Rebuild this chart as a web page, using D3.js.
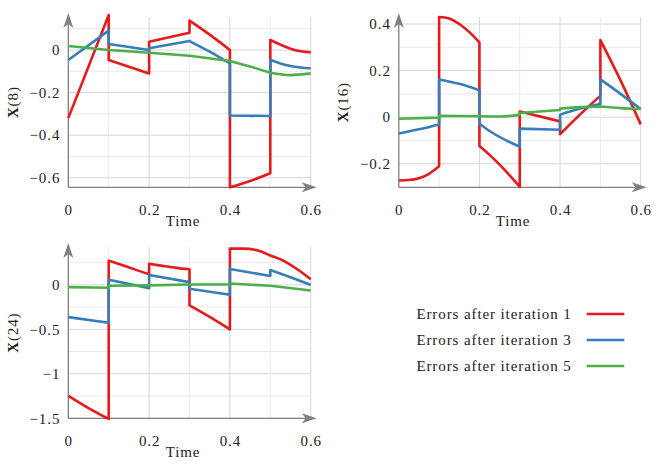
<html lang="en">
<head>
  <meta charset="UTF-8">
  <title>Errors per iteration</title>
  <script src="https://cdn.jsdelivr.net/npm/d3@7"></script>
  <style>
    body { margin: 0; background: #fff; }
    svg text { font-family: 'Liberation Serif', 'DejaVu Serif', serif; font-size: 15px; letter-spacing: 0.9px; fill: #222; }
  </style>
</head>
<body>
  <svg width="664" height="465"></svg>

  <script>
    // Points [time, value]; repeated times are the jumps
    const x8Iter1 = [[0,-0.32],[0.1,0.164],[0.1,-0.047],[0.2,-0.11],[0.2,0.039],[0.3,0.081],[0.3,0.138],[0.35,0.072],[0.4,0.0],
      [0.4,-0.645],[0.45,-0.615],[0.5,-0.579],[0.5,0.047],[0.525,0.025],[0.55,0.006],[0.575,-0.006],[0.6,-0.011]];
    const x8Iter3 = [[0,-0.047],[0.1,0.091],[0.1,0.028],[0.2,0.0],[0.2,0.008],[0.3,0.042],[0.35,-0.008],[0.4,-0.063],
      [0.4,-0.308],[0.5,-0.31],[0.5,-0.047],[0.525,-0.063],[0.55,-0.075],[0.575,-0.082],[0.6,-0.086]];
    const x8Iter5 = [[0,0.019],[0.1,0.0],[0.2,-0.013],[0.3,-0.027],[0.4,-0.052],[0.45,-0.078],[0.5,-0.107],[0.55,-0.118],[0.6,-0.11]];

    const x16Iter1 = [[0,-0.272],[0.025,-0.27],[0.05,-0.262],[0.075,-0.243],[0.1,-0.211],[0.1,0.43],[0.125,0.424],[0.15,0.4],
      [0.175,0.365],[0.2,0.321],[0.2,-0.124],[0.225,-0.162],[0.25,-0.204],[0.275,-0.25],[0.3,-0.299],[0.3,0.024],[0.4,-0.018],
      [0.4,-0.073],[0.45,0.012],[0.5,0.092],[0.5,0.331],[0.55,0.158],[0.6,-0.031]];
    const x16Iter3 = [[0,-0.07],[0.05,-0.052],[0.1,-0.031],[0.1,0.162],[0.15,0.143],[0.2,0.115],[0.2,-0.028],[0.233,-0.068],
      [0.267,-0.1],[0.3,-0.127],[0.3,-0.049],[0.4,-0.054],[0.4,0.011],[0.45,0.037],[0.5,0.056],[0.5,0.162],[0.55,0.1],[0.6,0.035]];
    const x16Iter5 = [[0,-0.007],[0.1,-0.002],[0.1,0.006],[0.2,0.004],[0.25,0.003],[0.3,0.01],[0.3,0.018],[0.4,0.031],
      [0.4,0.037],[0.45,0.043],[0.5,0.046],[0.55,0.039],[0.6,0.035]];

    const x24Iter1 = [[0,-1.248],[0.05,-1.385],[0.1,-1.507],[0.1,0.27],[0.133,0.222],[0.167,0.168],[0.2,0.119],[0.2,0.237],
      [0.233,0.213],[0.267,0.19],[0.3,0.174],[0.3,-0.23],[0.35,-0.36],[0.4,-0.5],[0.4,0.407],[0.433,0.407],[0.467,0.389],
      [0.5,0.33],[0.533,0.27],[0.567,0.175],[0.6,0.063]];
    const x24Iter3 = [[0,-0.363],[0.1,-0.426],[0.1,0.056],[0.2,-0.037],[0.2,0.111],[0.3,0.03],[0.3,-0.044],[0.4,-0.111],
      [0.4,0.178],[0.5,0.1],[0.5,0.167],[0.55,0.085],[0.6,0.0]];
    const x24Iter5 = [[0,-0.026],[0.1,-0.033],[0.1,-0.011],[0.2,-0.006],[0.3,0.004],[0.4,0.004],[0.4,0.015],[0.5,-0.011],[0.6,-0.063]];

    const seriesNames = ["Errors after iteration 1", "Errors after iteration 3", "Errors after iteration 5"];
    const colors = ["#e41a1c", "#377eb8", "#4daf4a"];

    const timeTicks = [0, 0.2, 0.4, 0.6];
    const timeGrid = [0.1, 0.2, 0.3, 0.4, 0.5, 0.6];
    const x8Ticks = [0, -0.2, -0.4, -0.6];
    const x8Minor = [0.1, -0.1, -0.3, -0.5];
    const x16Ticks = [0.4, 0.2, 0, -0.2];
    const x16Minor = [0.3, 0.1, -0.1];
    const x24Ticks = [0, -0.5, -1, -1.5];
    const x24Minor = [0.25, -0.25, -0.75, -1.25];

    const svg = d3.select("svg");
    const fmt = d3.format("~g");

    function arrowHead(g, tx, ty, dir) {
      // stealth-like head, tip at (tx, ty)
      const L = 15, W = 5, N = 11;
      const pts = dir === "right"
        ? [[tx, ty], [tx - L, ty - W], [tx - N, ty], [tx - L, ty + W]]
        : [[tx, ty], [tx - W, ty + L], [tx, ty + N], [tx + W, ty + L]];
      g.append("path").attr("d", "M" + pts.join("L") + "Z").attr("fill", "#808080");
    }

    // cut a series into its 0.1-long pieces so each piece can be smoothed on its own
    function pieces(s) {
      const out = [];
      for (let k = 0; k < 6; k++) {
        const lo = k / 10, hi = (k + 1) / 10;
        let a = -1, b = -1;
        s.forEach((d, i) => {
          if (Math.abs(d[0] - lo) < 1e-9) a = i;
          if (b < 0 && Math.abs(d[0] - hi) < 1e-9) b = i;
        });
        out.push(s.slice(a, b + 1));
      }
      return out;
    }

    function panel(p) {
      const x = d3.scaleLinear().domain([0, 0.6]).range([p.left, p.right]);
      const y = d3.scaleLinear().domain(p.yDomain).range([p.bottom, p.top]);
      const g = svg.append("g");

      // grid
      g.selectAll(".hminor").data(p.minor).join("line")
        .attr("x1", p.left).attr("x2", p.right).attr("y1", d => y(d)).attr("y2", d => y(d))
        .attr("stroke", "#ebebeb").attr("stroke-width", 1);
      g.selectAll(".hmajor").data(p.ticks).join("line")
        .attr("x1", p.left).attr("x2", p.right).attr("y1", d => y(d)).attr("y2", d => y(d))
        .attr("stroke", "#d6d6d6").attr("stroke-width", 1);
      g.selectAll(".vgrid").data(timeGrid).join("line")
        .attr("x1", d => x(d)).attr("x2", d => x(d)).attr("y1", p.bottom).attr("y2", p.top)
        .attr("stroke", d => timeTicks.includes(d) ? "#d6d6d6" : "#ebebeb").attr("stroke-width", 1);

      // axes
      const ax = g.append("g").attr("transform", `translate(0,${p.bottom})`)
        .call(d3.axisBottom(x).tickValues(timeTicks).tickFormat(fmt).tickSize(0).tickPadding(17));
      const ay = g.append("g").attr("transform", `translate(${p.left},0)`)
        .call(d3.axisLeft(y).tickValues(p.ticks).tickFormat(fmt).tickSize(0).tickPadding(8));
      [ax, ay].forEach(a => {
        a.attr("font-size", null).attr("font-family", null);
        a.select(".domain").remove();
        a.selectAll("text").attr("fill", "#222");
      });

      g.append("line").attr("x1", p.left).attr("x2", p.right + 2).attr("y1", p.bottom).attr("y2", p.bottom)
        .attr("stroke", "#808080").attr("stroke-width", 1.3);
      g.append("line").attr("x1", p.left).attr("x2", p.left).attr("y1", p.bottom).attr("y2", p.top - 1)
        .attr("stroke", "#808080").attr("stroke-width", 1.3);
      arrowHead(g, p.right + 6, p.bottom, "right");
      arrowHead(g, p.left, p.top - 4, "up");

      // series
      const line = d3.line().x(d => x(d[0])).y(d => y(d[1])).curve(d3.curveMonotoneX);
      p.series.forEach((s, i) => {
        const d = pieces(s).map((seg, j) => {
          const str = line(seg);
          return j ? "L" + str.slice(1) : str;
        }).join("");
        g.append("path").attr("d", d)
          .attr("fill", "none").attr("stroke", colors[i]).attr("stroke-width", 2.6)
          .attr("stroke-linejoin", "round");
      });

      // labels
      g.append("text").attr("x", p.timeX).attr("y", p.bottom + 39).attr("text-anchor", "middle").text("Time");
      const yl = g.append("text").attr("text-anchor", "middle")
        .attr("transform", `translate(${p.labelX},${(p.top + p.bottom) / 2}) rotate(-90)`)
        .attr("dy", "0.33em");
      yl.append("tspan").attr("font-weight", "bold").text("X");
      yl.append("tspan").text(p.label);
    }

    panel({ left: 68.3, right: 310.7, top: 17, bottom: 187.3, yDomain: [-0.645, 0.155],
      ticks: x8Ticks, minor: x8Minor, series: [x8Iter1, x8Iter3, x8Iter5], label: "(8)", labelX: 13, timeX: 183 });
    panel({ left: 398.8, right: 640.7, top: 17, bottom: 187.3, yDomain: [-0.301, 0.43],
      ticks: x16Ticks, minor: x16Minor, series: [x16Iter1, x16Iter3, x16Iter5], label: "(16)", labelX: 343, timeX: 513 });
    panel({ left: 68.3, right: 310.7, top: 247, bottom: 418.3, yDomain: [-1.5, 0.425],
      ticks: x24Ticks, minor: x24Minor, series: [x24Iter1, x24Iter3, x24Iter5], label: "(24)", labelX: 13, timeX: 183 });

    // legend
    const legend = svg.append("g");
    const rowY = d3.scalePoint().domain(seriesNames).range([314, 366]);
    seriesNames.forEach((name, i) => {
      legend.append("text").attr("x", 571.7).attr("y", rowY(name)).attr("dy", "0.33em")
        .attr("text-anchor", "end").text(name);
      legend.append("line").attr("x1", 586.7).attr("x2", 624.3).attr("y1", rowY(name)).attr("y2", rowY(name))
        .attr("stroke", colors[i]).attr("stroke-width", 2.6);
    });
  </script>
</body>
</html>
